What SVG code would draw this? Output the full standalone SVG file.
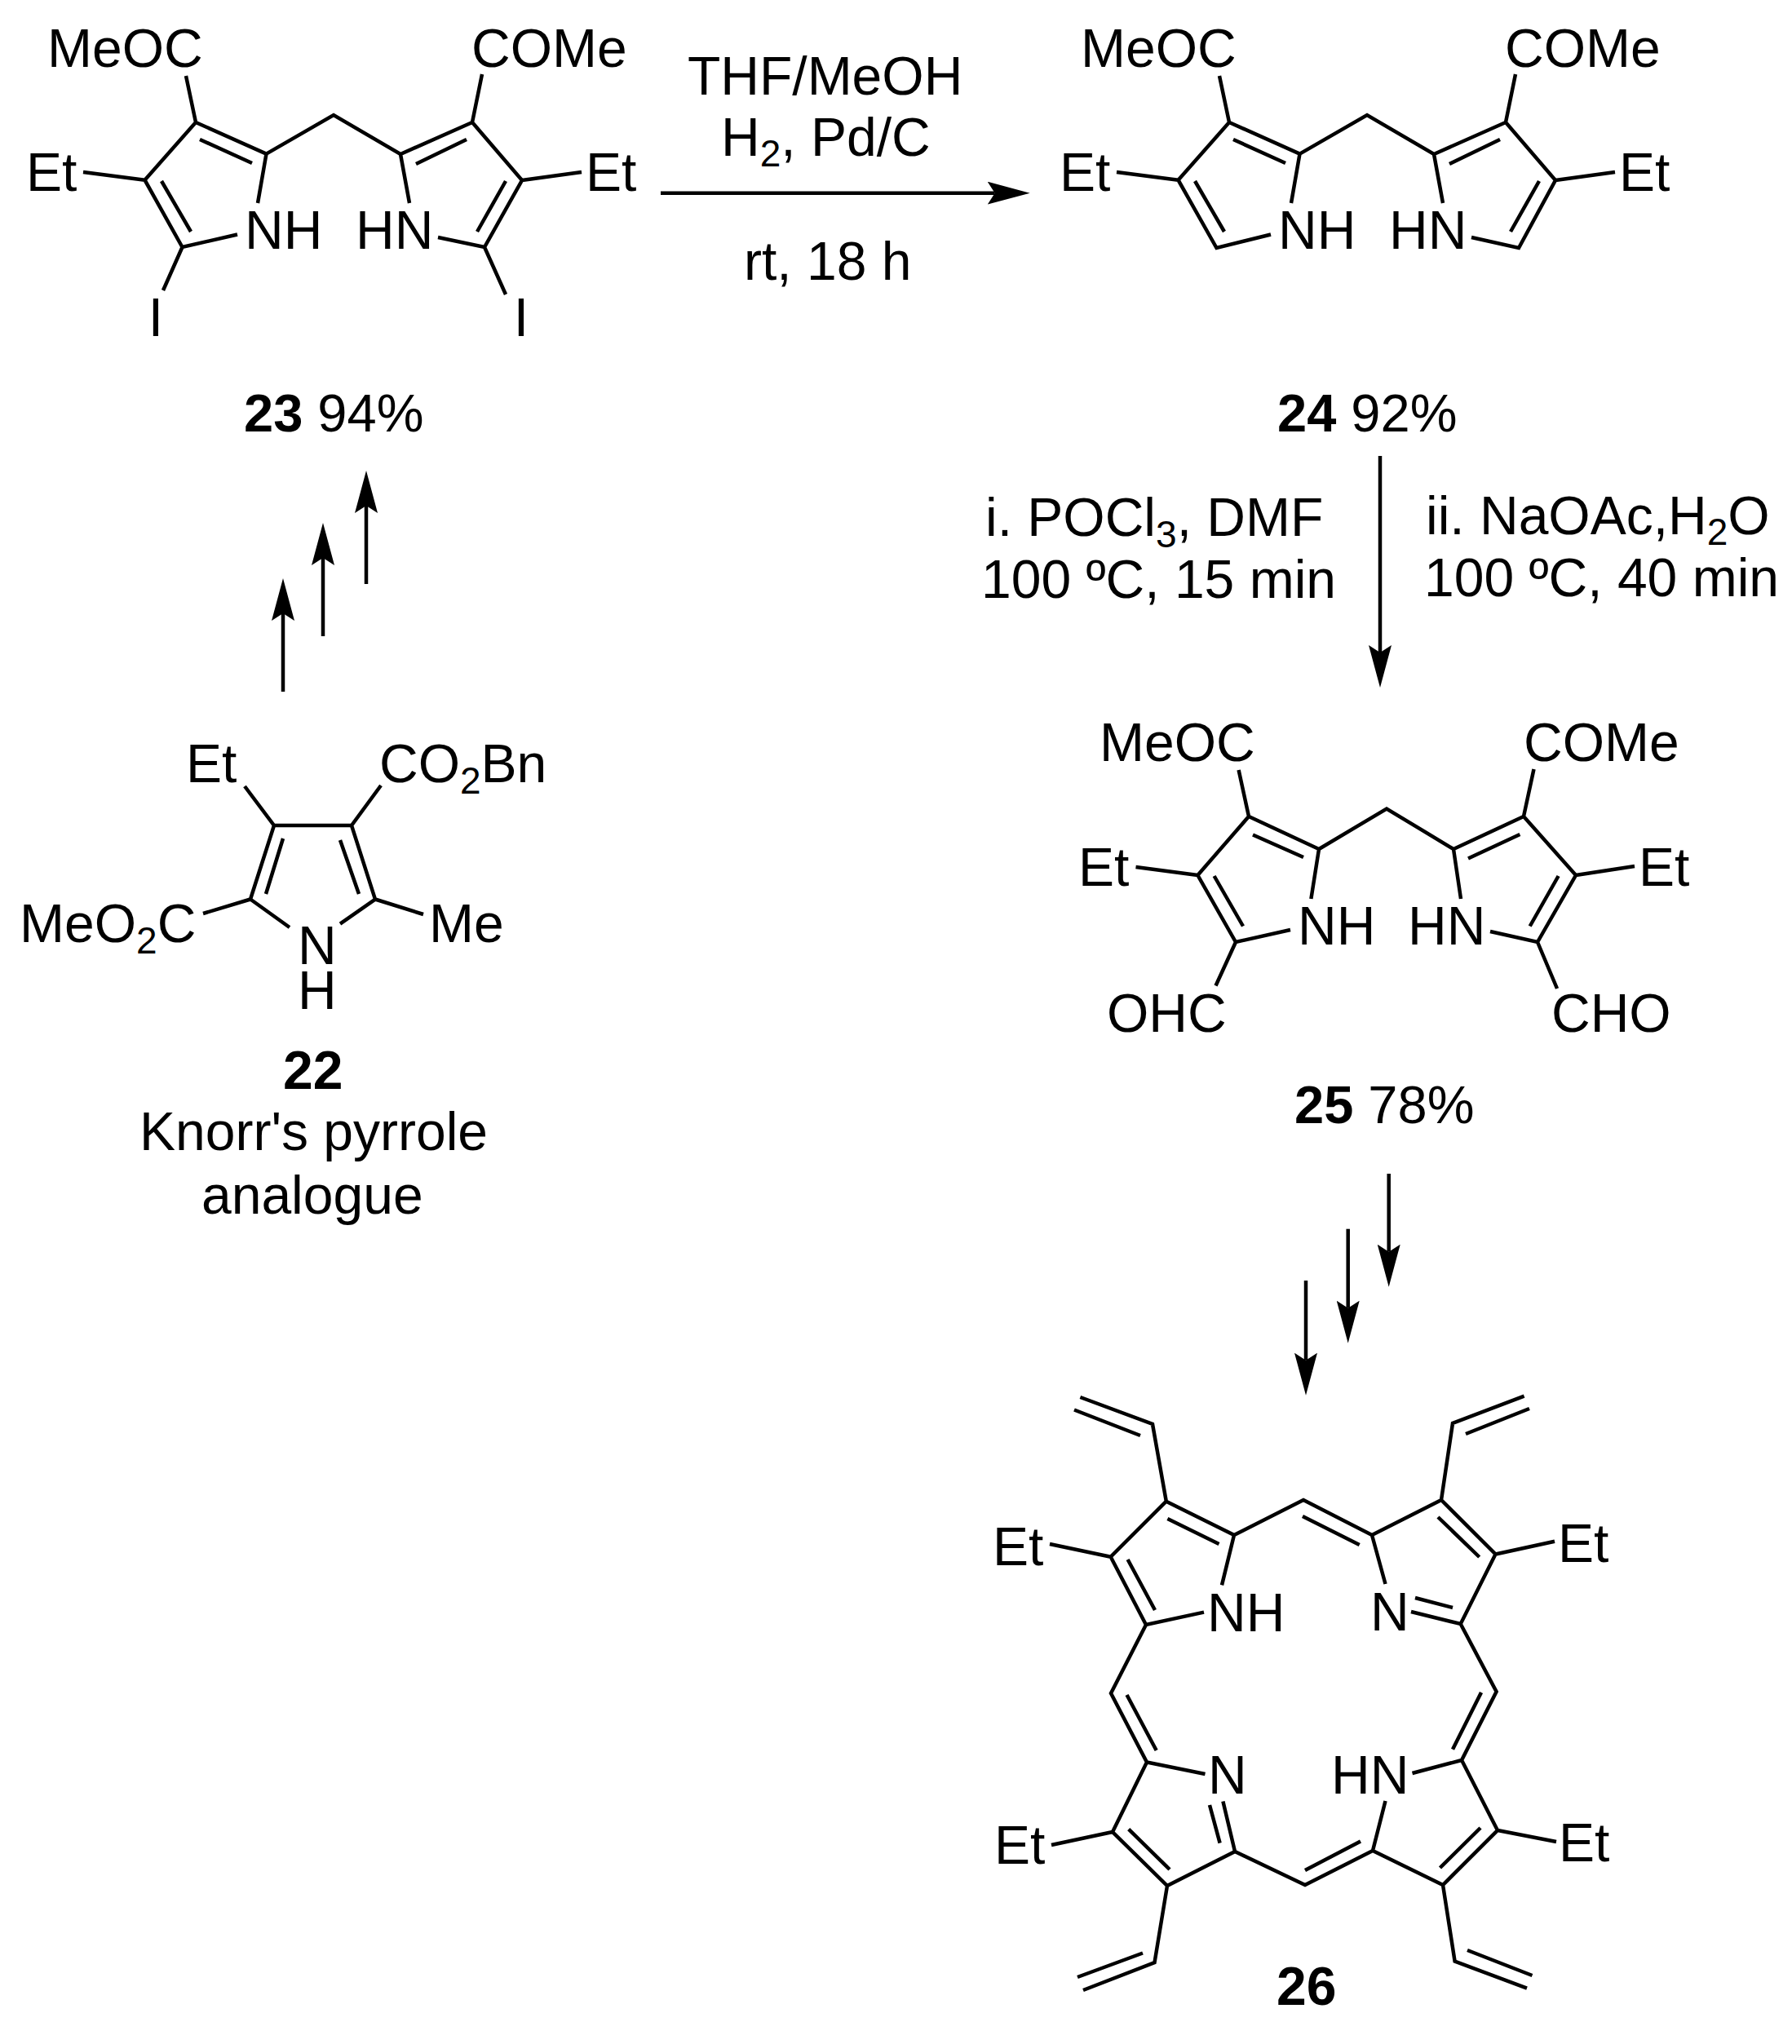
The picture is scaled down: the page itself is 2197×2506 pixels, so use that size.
<svg xmlns="http://www.w3.org/2000/svg" width="2197" height="2506" viewBox="0 0 2197 2506">
<style>
text{font-family:"Liberation Sans",Arial,sans-serif;font-size:66px;fill:#000}
.s{font-size:46px}
.b{font-weight:bold}
.y{font-size:65px}
.bond{fill:none;stroke:#000;stroke-width:4.5;stroke-linejoin:miter}
.arr{fill:none;stroke:#000;stroke-width:4.5;marker-end:url(#head)}
</style>
<defs>
<marker id="head" markerUnits="userSpaceOnUse" markerWidth="52" markerHeight="28" viewBox="0 0 52 28" refX="9" refY="14" orient="auto"><path d="M0,0L52,14L0,28L9,14Z" fill="#000"/></marker>
</defs>
<rect width="2197" height="2506" fill="#fff"/>
<g id="connectors">
<path class="arr" d="M810,236.7H1219.7"/>
<path class="arr" d="M347,848V752"/>
<path class="arr" d="M396,780V684"/>
<path class="arr" d="M449,716V620"/>
<path class="arr" d="M1692,559V800"/>
<path class="arr" d="M1601,1570V1667.7"/>
<path class="arr" d="M1652.7,1506.7V1603.7"/>
<path class="arr" d="M1702.7,1439V1534.7"/>
</g>
<g id="reagents-23-24">
<text x="843" y="116">THF/MeOH</text>
<text x="884" y="190.7">H<tspan class="s" dy="13">2</tspan><tspan dy="-13">, Pd/C</tspan></text>
<text x="912" y="342.7">rt, 18 h</text>
</g>
<g id="reagents-24-25">
<text x="1208" y="657">i. POCl<tspan class="s" dy="14">3</tspan><tspan dy="-14">, DMF</tspan></text>
<text x="1203" y="733">100 ºC, 15 min</text>
<text x="1748" y="655">ii. NaOAc,H<tspan class="s" dy="13">2</tspan><tspan dy="-13">O</tspan></text>
<text x="1746" y="731">100 ºC, 40 min</text>
</g>
<g id="compound-22">
<path class="bond" d="M300,964L336,1012H431L467,963M336,1012L307,1102.5L355,1137M431,1012L460,1102.5L417,1132.6M249,1120L307,1102.5M460,1102.5L519,1121M347,1028L326,1096M417,1030L440,1096"/>
<text x="228" y="959">Et</text>
<text x="465" y="959">CO<tspan class="s" dy="14">2</tspan><tspan dy="-14">Bn</tspan></text>
<text x="24" y="1155">MeO<tspan class="s" dy="14">2</tspan><tspan dy="-14">C</tspan></text>
<text x="526" y="1155">Me</text>
<text x="365" y="1181.6">N</text>
<text x="365" y="1237">H</text>
<text class="b" x="347" y="1335">22</text>
<text x="171" y="1410">Knorr's pyrrole</text>
<text x="247" y="1488">analogue</text>
</g>
<g id="compound-23">
<path class="bond" d="M228,93L240,150L326.5,188.6L316,249M291,287.5L223.5,303L177.5,220.7L240,150M102,211L177.5,220.7M326.5,188.6L409,141L491,189L579,150L591,91M491,189L502,249M537,291L594,303L640,221L579,150M640,221L713,211M223.5,303L200,356M594,303L620,361M245,171L309,200M198,222L234,284M572,171L510,201M620,222L585,284"/>
<text x="58" y="82">MeOC</text>
<text x="578" y="82">COMe</text>
<text x="32" y="234">Et</text>
<text x="718" y="234">Et</text>
<text x="300" y="305">NH</text>
<text x="436" y="305">HN</text>
<text x="191" y="412" text-anchor="middle">I</text>
<text x="639" y="412" text-anchor="middle">I</text>
<text class="y" x="299" y="529"><tspan class="b">23</tspan> 94%</text>
</g>
<g id="compound-24" transform="translate(1267,0)">
<path class="bond" d="M228,93L240,150L326.5,188.6L316,249M291,287.5L224.5,304L177.5,220.7L240,150M102,211L177.5,220.7M326.5,188.6L409,141L491,189L579,150L591,91M491,189L502,249M537,291L595,304L640,221L579,150M640,221L713,211M245,171L309,200M198,222L234,284M572,171L510,201M620,222L585,284"/>
<text x="58" y="82">MeOC</text>
<text x="578" y="82">COMe</text>
<text x="32" y="234">Et</text>
<text x="718" y="234">Et</text>
<text x="300" y="305">NH</text>
<text x="436" y="305">HN</text>
<text class="y" x="299" y="529"><tspan class="b">24</tspan> 92%</text>
</g>
<g id="compound-25">
<path class="bond" d="M1518.6,944L1531,1001L1617,1041L1607.4,1102M1582,1140L1515,1155L1468.4,1073L1531,1001M1392.5,1063L1468.4,1073M1617,1041L1700,991.5L1782,1041L1868,1001L1880.5,943M1782,1041L1791,1102M1827,1142L1885,1155L1932,1073L1868,1001M1932,1073L2004,1062M1515,1155L1490.5,1208.5M1885,1155L1909,1212M1536,1023.5L1598,1051M1488.6,1074L1524,1135.5M1863.4,1023L1800,1052.5M1910.6,1074L1875.7,1135.5"/>
<text x="1348" y="933">MeOC</text>
<text x="1868" y="933">COMe</text>
<text x="1322" y="1086">Et</text>
<text x="2009" y="1086">Et</text>
<text x="1591" y="1157.5">NH</text>
<text x="1726" y="1157.5">HN</text>
<text x="1357" y="1265">OHC</text>
<text x="1902" y="1265">CHO</text>
<text class="y" x="1587" y="1377"><tspan class="b">25</tspan> 78%</text>
</g>
<g id="compound-26">
<path class="bond" d="M1324.4,1713L1413,1746L1429.8,1840.7L1513,1882L1498,1943.4M1476,1976.6L1405,1992L1361.7,1908.7L1429.8,1840.7M1287,1893L1361.7,1908.7M1513,1882L1598,1839L1682,1882L1767,1839L1781,1745L1868.6,1711.6M1682,1882L1698.5,1942M1730,1976L1790.7,1991L1833.5,1905.5L1767,1839M1833.5,1905.5L1906,1889.7M1405,1992L1362,2076L1406,2160.5L1477.5,2175M1790.7,1991L1834.6,2074L1792,2158L1731.5,2174M1406,2160.5L1364,2246L1431,2312L1514,2270L1499.4,2208.5M1364,2246L1289,2262M1431,2312L1415.5,2406L1328,2440M1514,2270L1600,2311L1683,2269L1698.5,2208M1683,2269L1769,2311L1836,2244L1792,2158M1836,2244L1908,2258M1769,2311L1783.6,2404.5L1872,2437.6"/>
<path class="bond" d="M1317,1728.5L1398,1760M1797,1758L1875,1727M1401,2394.5L1321,2424M1799,2391L1878.5,2422M1494.5,1893L1431.4,1862M1416,1974L1382.6,1912M1666.7,1894L1597,1859M1813.7,1909L1763,1860M1781,1971L1735,1959M1417.7,2146L1381.5,2078M1781,2144.7L1816,2075M1434,2292L1383.7,2242.7M1495.6,2259.6L1483,2213M1600,2293L1668,2257.5M1765.5,2290L1815,2241"/>
<text x="1217" y="1918.7">Et</text>
<text x="1910" y="1914.5">Et</text>
<text x="1219" y="2285">Et</text>
<text x="1911" y="2281.7">Et</text>
<text x="1480" y="2000">NH</text>
<text x="1680" y="1999">N</text>
<text x="1481" y="2199">N</text>
<text x="1632" y="2199">HN</text>
<text class="b" x="1565" y="2457.7">26</text>
</g>
</svg>
